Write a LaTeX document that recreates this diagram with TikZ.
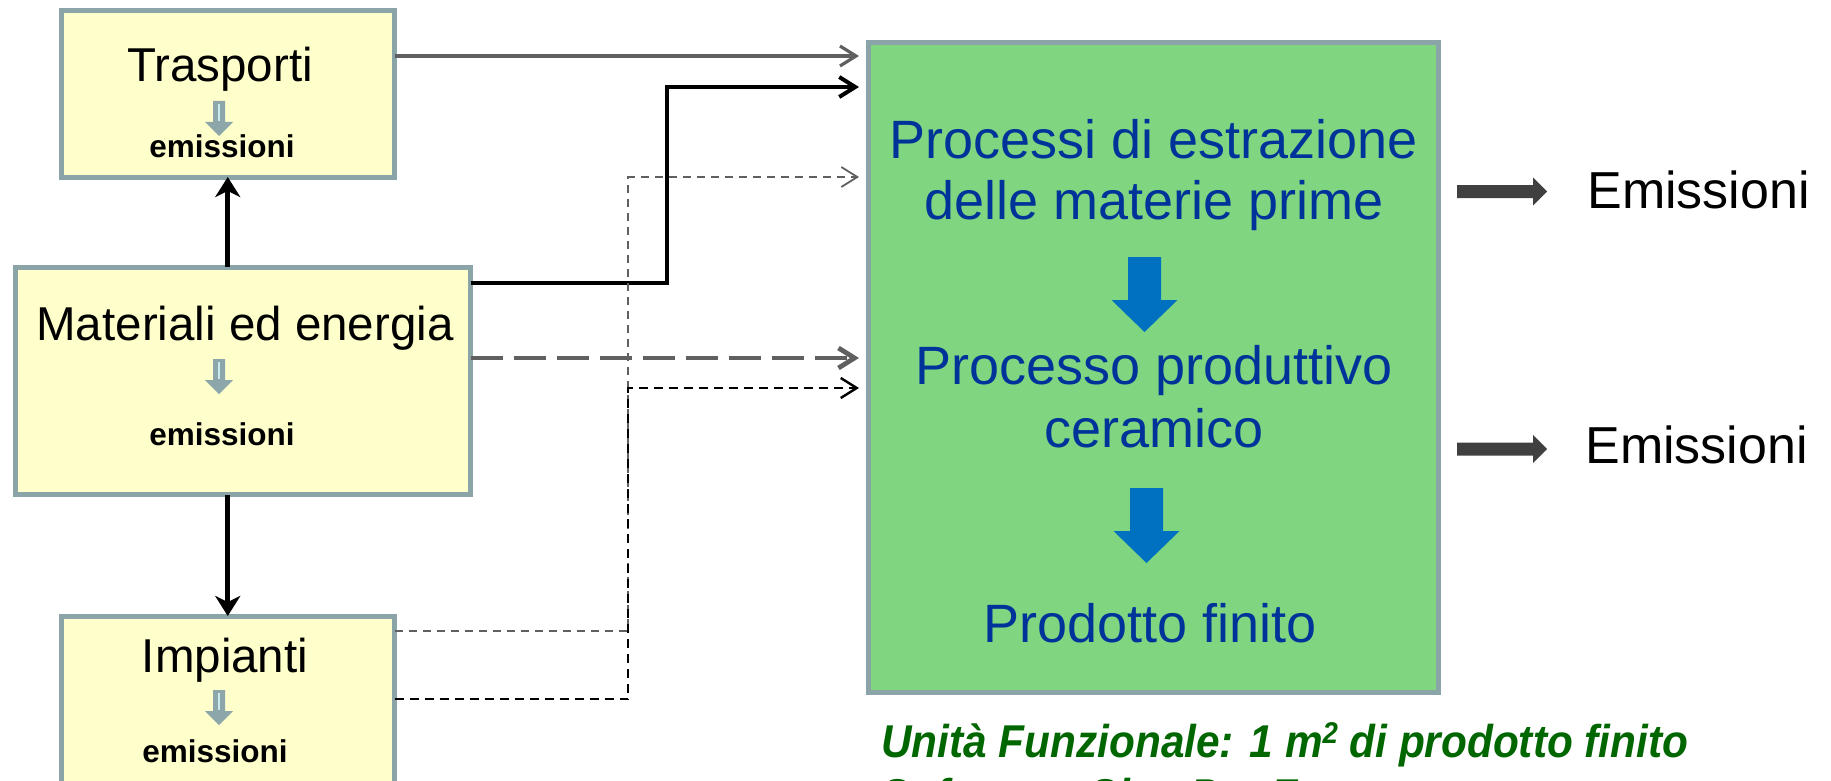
\documentclass[tikz,border=0pt]{standalone}
\usepackage{fontspec}
\setmainfont{Liberation Sans}[Ligatures=NoCommon]
\usepackage{tikz}
\usetikzlibrary{arrows.meta}

\definecolor{boxedge}{RGB}{138,164,167}
\definecolor{boxfill}{RGB}{255,255,204}
\definecolor{procfill}{RGB}{128,214,128}
\definecolor{proctext}{RGB}{0,51,153}
\definecolor{stepblue}{RGB}{0,112,192}
\definecolor{darkarrow}{RGB}{64,64,64}
\definecolor{linegray}{RGB}{96,96,96}
\definecolor{unitgreen}{RGB}{0,102,0}
\definecolor{emfill}{RGB}{140,166,170}
\definecolor{emline}{RGB}{200,235,240}

\tikzset{
  infobox/.style={draw=boxedge, line width=2.5pt, fill=boxfill, inner sep=0pt, outer sep=0pt},
  procbox/.style={draw=boxedge, line width=2.5pt, fill=procfill, inner sep=0pt, outer sep=0pt},
  title/.style={anchor=base, inner sep=0pt, font=\fontsize{23.75}{28}\selectfont},
  emis/.style={anchor=base, inner sep=0pt, font=\bfseries\fontsize{15.75}{19}\selectfont},
  steptext/.style={anchor=base, inner sep=0pt, text=proctext, font=\fontsize{27}{32}\selectfont},
  outtext/.style={anchor=base west, inner sep=0pt, font=\fontsize{26}{31}\selectfont},
  unit/.style={anchor=base west, inner sep=0pt, xscale=0.92, text=unitgreen,
    font=\bfseries\itshape\fontsize{23}{28}\selectfont},
  feed/.style={-{Straight Barb[length=8pt,width=10pt]}, shorten >=3.5pt},
  riser/.style={-{Stealth[length=10pt,width=12.5pt,inset=3pt]}, line width=2.5pt},
  % small arrow inside the yellow boxes
  emarrow/.pic={
    \fill[emfill] (-6,0) -- (6,0) -- (6,21) -- (14,21) -- (0,35) -- (-14,21) -- (-6,21) -- cycle;
    \draw[emline, line width=1pt] (0,3) -- (0,20);
  },
  % blue step arrow in the process box
  stepdown/.pic={
    \fill[stepblue] (-16.5,0) -- (16.5,0) -- (16.5,43) -- (33,43) -- (0,75) -- (-33,43) -- (-16.5,43) -- cycle;
  },
  % dark arrow towards the emissions
  outarrow/.pic={
    \fill[darkarrow] (0,-6.5) -- (76,-6.5) -- (76,-14) -- (90,0) -- (76,14) -- (76,6.5) -- (0,6.5) -- cycle;
  },
}

\begin{document}
\begin{tikzpicture}[x=0.5pt, y=-0.5pt]
\useasboundingbox (0,0) rectangle (1831,781);

% left column
\node[infobox, minimum width=166.75pt, minimum height=83.25pt] (tra) at (227.75,93.75) {};
\node[infobox, minimum width=227.5pt, minimum height=113.75pt] (mat) at (243,381) {};
\node[infobox, minimum width=166.75pt, minimum height=88pt] (imp) at (227.75,704) {};

\node[title] (traname) at (220,82) {Trasporti};
\pic at (219,101) {emarrow};
\node[emis] (traemis) at (222,157) {emissioni};

\node[title] (matname) at (245,340) {Materiali ed energia};
\pic at (219,359) {emarrow};
\node[emis] (matemis) at (222,445) {emissioni};

\node[title] (impname) at (225,672) {Impianti};
\pic at (219,690) {emarrow};
\node[emis] (impemis) at (215,762) {emissioni};

% process box
\node[procbox, minimum width=285pt, minimum height=325pt] (green) at (1153.5,367.5) {};
\node[steptext] (step1a) at (1154,158) {Processi di estrazione};
\node[steptext] (step1b) at (1154,220) {delle materie prime};
\pic at (1144.5,257) {stepdown};
\node[steptext] (step2a) at (1154,384) {Processo produttivo};
\node[steptext] (step2b) at (1154,447) {ceramico};
\pic at (1146.5,488) {stepdown};
\node[steptext] (step3) at (1150,642) {Prodotto finito};

% outputs
\pic at (1457,191.5) {outarrow};
\node[outtext] (emi1) at (1587,208) {Emissioni};
\pic at (1457,449) {outarrow};
\node[outtext] (emi2) at (1585,463) {Emissioni};

% entry points on the process box and line kinks
\coordinate (in1) at (866,56);
\coordinate (in2) at (866,87);
\coordinate (in3) at (866,358);
\coordinate (in4) at (866,177);
\coordinate (in5) at (866,388);
\coordinate (k2) at (667,283);
\coordinate (k4) at (628,631);
\coordinate (k5) at (628,699);

% flows
\draw[riser] (tra.south |- mat.north) -- (tra.south);
\draw[riser] (imp.north |- mat.south) -- (imp.north);

\draw[feed, linegray, line width=1.6pt] (tra.east |- in1) -- (in1);
\draw[feed, line width=2pt] (mat.east |- k2) -- (k2) |- (in2);
\draw[feed, linegray, line width=2.4pt, dash pattern=on 16pt off 5.5pt] (mat.east |- in3) -- (in3);
\draw[feed, linegray, line width=0.9pt, dash pattern=on 4pt off 3pt] (imp.east |- k4) -- (k4) |- (in4);
\draw[feed, line width=1.2pt, dash pattern=on 4.5pt off 3pt] (imp.east |- k5) -- (k5) |- (in5);

% functional unit
\node[unit] (unit) at (881,757) {Unità Funzionale: 1 m\raisebox{0.55ex}{\fontsize{15}{18}\selectfont 2} di prodotto finito};
\node[unit] (soft) at (881,811) {Software: SimaPro 7};
\end{tikzpicture}
\end{document}
